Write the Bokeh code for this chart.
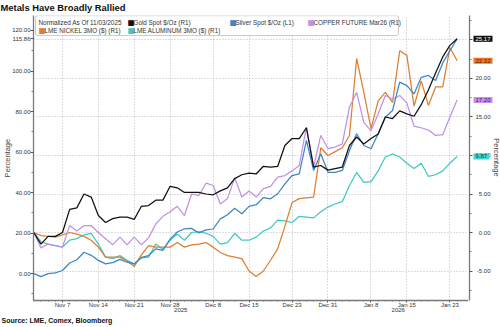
import math
import pandas as pd
from bokeh.plotting import figure
from bokeh.layouts import row
from bokeh.models import (Range1d, LinearAxis, FixedTicker, NumeralTickFormatter, Label,
                          BoxAnnotation, Title)
from bokeh.embed import file_html
from bokeh.resources import INLINE

# ---------------- data ----------------
dates = [d for d in pd.bdate_range("2025-11-03", "2026-01-26") if d != pd.Timestamp("2025-12-25")]
tick_dates = ["2025-11-07", "2025-11-14", "2025-11-21", "2025-11-28", "2025-12-08", "2025-12-15",
              "2025-12-23", "2025-12-31", "2026-01-08", "2026-01-15", "2026-01-23"]
tick_labels = ["Nov 7", "Nov 14", "Nov 21", "Nov 28", "Dec 8", "Dec 15",
               "Dec 23", "Dec 31", "Jan 8", "Jan 15", "Jan 23"]
year_labels = ["2025", "2026"]
left_ticks = [0, 20, 40, 60, 80, 100, 120]
right_ticks = [-5, 0, 5, 10, 15, 20, 25]

gold = [0, -1.5, -0.5, -0.5, 0.0, 3.0, 3.2, 5.0, 4.6, 2.2, 1.3, 1.8, 2.0, 2.0, 1.7, 3.4, 3.5, 4.2, 4.2, 6.0,
        5.8, 5.2, 5.2, 5.2, 5.0, 4.9, 5.4, 5.8, 7.0, 7.5, 7.7, 7.6, 8.6, 8.5, 8.6, 11.3, 12.2, 12.2, 13.6, 8.5,
        8.7, 8.1, 8.3, 8.5, 11.3, 12.4, 11.5, 12.2, 12.8, 15.0, 14.8, 15.8, 15.4, 15.1, 16.6, 18.5, 20.7, 22.8, 24.3, 25.17]
silver = [0, -1.5, 0.0, 0.3, 1.5, 5.2, 6.8, 10.5, 9.0, 6.5, 4.8, 5.4, 7.0, 5.6, 4.8, 8.0, 8.9, 12.2, 11.4, 17.0,
          20.5, 22.1, 22.3, 20.0, 21.6, 22.0, 27.0, 29.0, 32.2, 29.5, 33.2, 34.0, 37.5, 36.9, 39.4, 44.3, 48.4, 49.2, 65.7, 50.9,
          59.1, 50.0, 50.0, 50.9, 60.7, 69.0, 63.2, 61.6, 69.0, 77.2, 80.5, 94.5, 92.8, 88.7, 96.9, 97.8, 95.3, 104.0, 110.0, 115.86]
copper = [0, -2.0, -1.5, -1.7, -1.9, 0.9, 0.2, 0.9, 0.9, 0.0, -0.8, -1.6, -0.6, -1.6, -0.6, -1.6, -0.7, 1.1, 2.1, 2.7,
          3.4, 2.2, 5.0, 4.8, 6.4, 6.1, 3.7, 4.4, 7.1, 4.6, 5.4, 4.6, 5.7, 6.0, 7.2, 7.4, 8.0, 8.7, 13.7, 8.5,
          12.6, 10.9, 11.1, 11.5, 16.3, 18.2, 14.3, 13.2, 15.4, 17.8, 17.3, 17.8, 16.8, 13.8, 13.6, 13.3, 12.6, 12.7, 15.0, 17.20]
nickel = [0, -0.4, -0.5, -0.6, -0.3, 0.0, -0.2, -0.5, -1.0, -1.9, -3.2, -3.2, -3.2, -3.7, -4.4, -2.9, -1.7, -1.9, -1.9, -1.9,
          -1.3, -1.9, -1.6, -1.5, -1.3, -1.9, -2.6, -3.0, -3.2, -3.4, -5.0, -5.7, -5.0, -3.6, -2.1, 0.8, 3.9, 4.4, 4.5, 4.6,
          11.0, 10.0, 10.5, 11.0, 12.6, 22.6, 18.2, 13.5, 17.1, 18.2, 16.9, 23.6, 23.0, 16.4, 19.7, 16.5, 18.9, 18.9, 24.0, 22.32]
aluminum = [0, -1.2, -1.5, -1.7, -1.9, -1.0, -0.8, -0.3, -0.1, -1.5, -3.2, -3.4, -3.0, -3.6, -4.1, -3.3, -3.2, -1.5, -2.2, -1.0,
            -0.2, -1.0, 0.0, 0.1, -0.1, -0.5, -1.5, -1.3, -0.1, -1.0, -1.0, -0.6, 0.2, 0.6, 1.6, 1.5, 1.3, 2.1, 2.0, 1.9,
            2.7, 3.3, 3.7, 4.0, 6.1, 7.8, 6.5, 6.6, 8.0, 9.8, 10.2, 9.8, 9.0, 8.3, 9.0, 7.3, 7.5, 8.0, 9.0, 9.87]

x = list(range(len(dates)))
tick_pos = [dates.index(pd.Timestamp(t)) for t in tick_dates]

# ---------------- layout helpers ----------------
W, H = 500, 327
FL, FR, FT, FB = 33, 468, 15, 300
XR = (-0.04, 60.59)
RR = (-8.83, 28.18)
LR = (-13.3, 127.4)


def X(px):
    return XR[0] + (px - FL) * (XR[1] - XR[0]) / (FR - FL)


def YR(py):
    return RR[1] - (py - FT) * (RR[1] - RR[0]) / (FB - FT)


FONT = "Liberation Sans"
C_GOLD, C_SILVER, C_COPPER, C_NICKEL, C_ALU = "#111111", "#3d85c6", "#c191e6", "#dc7f30", "#3fc9c1"
AX_COL = "#7a7a7a"

p = figure(width=FR, height=H, output_backend="svg", toolbar_location=None,
           x_range=Range1d(*XR), y_range=Range1d(*RR), y_axis_location="right",
           min_border_left=FL, min_border_right=0, min_border_top=FT, min_border_bottom=H - FB)
p.extra_y_ranges = {"left": Range1d(*LR)}
p.outline_line_color = None
p.background_fill_color = "white"
p.border_fill_color = "white"

xax = p.xaxis[0]
rax = p.yaxis[0]

xt = FixedTicker(ticks=tick_pos, minor_ticks=x)
xax.ticker = xt
p.xgrid[0].ticker = xt
xax.major_label_overrides = {t: l for t, l in zip(tick_pos, tick_labels)}

rt = FixedTicker(ticks=right_ticks, minor_ticks=[v + 2.5 for v in [-10] + right_ticks])
rax.ticker = rt
p.ygrid[0].ticker = rt
rax.visible = False   # the right axis is drawn on the strip figure to the right

lax = LinearAxis(y_range_name="left",
                 ticker=FixedTicker(ticks=left_ticks + [silver[-1]], minor_ticks=[v - 10 for v in left_ticks]),
                 formatter=NumeralTickFormatter(format="0.00"))
p.add_layout(lax, "left")

for ax in [xax, lax]:
    ax.axis_line_color = AX_COL
    ax.axis_line_width = 1.3
    ax.major_tick_line_color = "#555555"
    ax.minor_tick_line_color = "#777777"
    ax.major_tick_in = 0
    ax.minor_tick_in = 0
    ax.major_tick_out = 3
    ax.minor_tick_out = 2
    ax.major_label_text_font = FONT
    ax.major_label_text_font_size = "6px"
    ax.major_label_text_color = "#333333"
    ax.major_label_standoff = 0
xax.major_tick_out = 2
xax.minor_tick_out = 1
xax.major_label_standoff = -1

lax.axis_label = "Percentage"
lax.axis_label_text_font = FONT
lax.axis_label_text_font_size = "7.5px"
lax.axis_label_text_font_style = "normal"
lax.axis_label_text_color = "#444444"
lax.axis_label_standoff = -3

# year axis below the date axis
boundary = tick_pos[tick_labels.index("Dec 31")]
year_pos = [(XR[0] + boundary) / 2, (boundary + XR[1]) / 2]
yax = LinearAxis(ticker=FixedTicker(ticks=year_pos),
                 major_label_overrides={t: l for t, l in zip(year_pos, year_labels)})
yax.axis_line_color = None
yax.major_tick_line_color = None
yax.minor_tick_line_color = None
yax.major_tick_out = 0
yax.major_tick_in = 0
yax.minor_tick_in = 0
yax.minor_tick_out = 0
yax.major_label_standoff = -3
yax.major_label_text_font = FONT
yax.major_label_text_font_size = "6px"
yax.major_label_text_color = "#333333"
p.add_layout(yax, "below")

p.add_layout(Title(text="Source: LME, Comex, Bloomberg", text_font=FONT, text_font_size="7px",
                   text_font_style="bold", text_color="#111111", align="left", offset=-FL + 1,
                   standoff=1), "below")
p.title = Title(text="Metals Have Broadly Rallied", text_font=FONT, text_font_size="9.4px",
                text_font_style="bold", text_color="#111111", align="left", offset=-FL,
                standoff=2, vertical_align="top")

for g in [p.xgrid[0], p.ygrid[0]]:
    g.grid_line_color = "#bcbcbc"
    g.grid_line_dash = "1 2"
    g.grid_line_width = 1

# ---------------- lines ----------------
p.line(x, aluminum, line_color=C_ALU, line_width=1.25)
p.line(x, nickel, line_color=C_NICKEL, line_width=1.25)
p.line(x, copper, line_color=C_COPPER, line_width=1.25)
p.line(x, silver, line_color=C_SILVER, line_width=1.25, y_range_name="left")
p.line(x, gold, line_color=C_GOLD, line_width=1.25)


# ---------------- legend ----------------
def lab(fig, xv, yv, text, size="6px", color="#333333", bold=False, align="left", angle=0, font=FONT, **kw):
    fig.add_layout(Label(x=xv, y=yv, text=text, text_font=font, text_font_size=size,
                         text_color=color, text_font_style="bold" if bold else "normal",
                         text_align=align, text_baseline="middle", angle=angle, **kw))


p.add_layout(BoxAnnotation(left=X(35), right=X(398), top=YR(15.2), bottom=YR(35),
                           fill_color="white", fill_alpha=1, line_color="#555555", line_width=1,
                           border_radius=2, level="annotation"))
lab(p, X(38), YR(21.5), "Normalized As Of 11/03/2025", size="6.4px")
legend_rows = [
    (127, 21.5, C_GOLD, "Gold Spot $/Oz  (R1)"),
    (229, 21.5, C_SILVER, "Silver Spot $/Oz  (L1)"),
    (307, 21.5, C_COPPER, "COPPER FUTURE Mar26  (R1)"),
    (38, 29.5, C_NICKEL, "LME NICKEL 3MO ($)  (R1)"),
    (127, 29.5, C_ALU, "LME ALUMINUM 3MO ($)  (R1)"),
]
for px, py, c, t in legend_rows:
    lab(p, X(px), YR(py), "\u25a0", size="7.5px", color=c, font="DejaVu Sans")
    lab(p, X(px + 6), YR(py), t, size="6.3px")

# ---------------- right-hand strip: right axis (R1), value tags, axis title ----------------
SW = W - FR
pB = figure(width=SW, height=H, output_backend="svg", toolbar_location=None,
            x_range=Range1d(0, SW - 1), y_range=p.y_range, x_axis_location=None,
            y_axis_location="left", min_border_left=1, min_border_right=0,
            min_border_top=FT, min_border_bottom=H - FB)
pB.outline_line_color = None
pB.background_fill_color = "white"
pB.border_fill_color = "white"
pB.xgrid.visible = False
pB.ygrid.visible = False
bax = pB.yaxis[0]
bax.ticker = rt
bax.formatter = NumeralTickFormatter(format="0.00")
bax.axis_line_color = AX_COL
bax.axis_line_width = 1.3
bax.major_tick_line_color = "#555555"
bax.minor_tick_line_color = "#777777"
bax.major_tick_out = 0
bax.minor_tick_out = 0
bax.major_tick_in = 3
bax.minor_tick_in = 2
bax.major_label_standoff = -21
bax.major_label_text_font = FONT
bax.major_label_text_font_size = "6px"
bax.major_label_text_color = "#333333"

tags = [
    (gold[-1], C_GOLD, "white"),
    (nickel[-1], "#f07424", "#4a1f00"),
    (copper[-1], "#c98ef0", "#3f1a5c"),
    (aluminum[-1], "#3fd6cf", "#0b4a47"),
]
for v, bg, fg in tags:
    pB.add_layout(Label(x=4, y=v, text=f"{v:.2f}", text_font=FONT, text_font_size="6px",
                        text_color=fg, background_fill_color=bg, padding=(2, 1),
                        text_baseline="middle", text_align="left"))
lab(pB, 27, YR(157), "Percentage", size="7.5px", color="#444444", align="center", angle=-math.pi / 2)

layout = row(p, pB, spacing=0)
open("out.html", "w").write(file_html(layout, INLINE))
